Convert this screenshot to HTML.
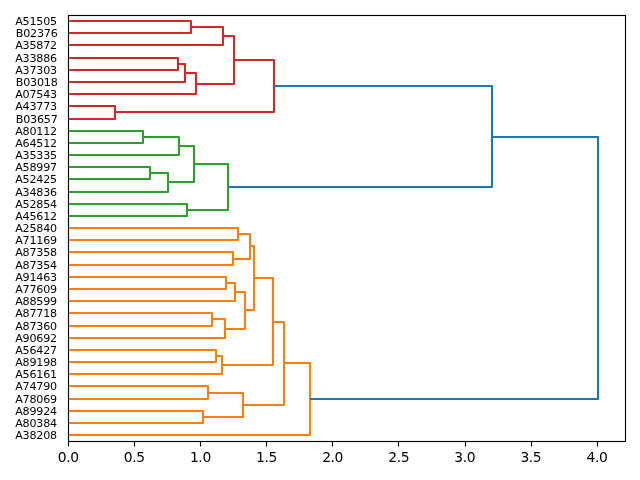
<!DOCTYPE html>
<html><head><meta charset="utf-8"><title>Dendrogram</title>
<style>html,body{margin:0;padding:0;background:#fff;overflow:hidden}svg{display:block}text{font-family:"DejaVu Sans","Liberation Sans",sans-serif;fill:#000}</style></head><body>
<svg width="640" height="480" viewBox="0 0 640 480">
<rect width="640" height="480" fill="#fff"/>
<g fill="none" stroke-width="2.08" stroke-linejoin="round" stroke-linecap="butt">
<path d="M69.1 21H191V33H69.1" stroke="#d62728"/>
<path d="M191 27H223V45H69.1" stroke="#d62728"/>
<path d="M69.1 58H178V70H69.1" stroke="#d62728"/>
<path d="M178 64H185V82H69.1" stroke="#d62728"/>
<path d="M185 73H196V94H69.1" stroke="#d62728"/>
<path d="M223 36H234V84H196" stroke="#d62728"/>
<path d="M69.1 106H115V119H69.1" stroke="#d62728"/>
<path d="M234 60H274V112H115" stroke="#d62728"/>
<path d="M69.1 131H143V143H69.1" stroke="#2ca02c"/>
<path d="M143 137H179V155H69.1" stroke="#2ca02c"/>
<path d="M69.1 167H150V179H69.1" stroke="#2ca02c"/>
<path d="M150 173H168V192H69.1" stroke="#2ca02c"/>
<path d="M179 146H194V182H168" stroke="#2ca02c"/>
<path d="M69.1 204H187V216H69.1" stroke="#2ca02c"/>
<path d="M194 164H228V210H187" stroke="#2ca02c"/>
<path d="M274 86H492V187H228" stroke="#1f77b4"/>
<path d="M69.1 228H238V240H69.1" stroke="#ff7f0e"/>
<path d="M69.1 252H233V265H69.1" stroke="#ff7f0e"/>
<path d="M238 234H250V259H233" stroke="#ff7f0e"/>
<path d="M69.1 277H226V289H69.1" stroke="#ff7f0e"/>
<path d="M226 283H235V301H69.1" stroke="#ff7f0e"/>
<path d="M69.1 313H212V326H69.1" stroke="#ff7f0e"/>
<path d="M212 319H225V338H69.1" stroke="#ff7f0e"/>
<path d="M235 292H245V329H225" stroke="#ff7f0e"/>
<path d="M250 246H254V310H245" stroke="#ff7f0e"/>
<path d="M69.1 350H216V362H69.1" stroke="#ff7f0e"/>
<path d="M216 356H222V374H69.1" stroke="#ff7f0e"/>
<path d="M254 278H273V365H222" stroke="#ff7f0e"/>
<path d="M69.1 386H208V399H69.1" stroke="#ff7f0e"/>
<path d="M69.1 411H203V423H69.1" stroke="#ff7f0e"/>
<path d="M208 393H243V417H203" stroke="#ff7f0e"/>
<path d="M273 322H284V405H243" stroke="#ff7f0e"/>
<path d="M284 363H310V435H69.1" stroke="#ff7f0e"/>
<path d="M492 137H598V399H310" stroke="#1f77b4"/>
</g>
<rect x="68.5" y="15.5" width="557.0" height="426.0" fill="none" stroke="#000" stroke-width="1.11"/>
<g stroke="#000" stroke-width="1.11">
<line x1="68.5" y1="441.5" x2="68.5" y2="446.5"/>
<line x1="134.5" y1="441.5" x2="134.5" y2="446.5"/>
<line x1="200.5" y1="441.5" x2="200.5" y2="446.5"/>
<line x1="266.5" y1="441.5" x2="266.5" y2="446.5"/>
<line x1="332.5" y1="441.5" x2="332.5" y2="446.5"/>
<line x1="398.5" y1="441.5" x2="398.5" y2="446.5"/>
<line x1="465.5" y1="441.5" x2="465.5" y2="446.5"/>
<line x1="531.5" y1="441.5" x2="531.5" y2="446.5"/>
<line x1="597.5" y1="441.5" x2="597.5" y2="446.5"/>
</g>
<g font-size="13.89" text-anchor="middle" letter-spacing="-0.4">
<text x="68.20" y="462">0.0</text>
<text x="134.29" y="462">0.5</text>
<text x="200.39" y="462">1.0</text>
<text x="266.48" y="462">1.5</text>
<text x="332.58" y="462">2.0</text>
<text x="398.68" y="462">2.5</text>
<text x="464.77" y="462">3.0</text>
<text x="530.87" y="462">3.5</text>
<text x="596.96" y="462">4.0</text>
</g>
<g font-size="11.11" text-anchor="end" letter-spacing="-0.2">
<text x="56.9" y="25">A51505</text>
<text x="57.6" y="37">B02376</text>
<text x="56.9" y="49">A35872</text>
<text x="56.9" y="62">A33886</text>
<text x="56.9" y="74">A37303</text>
<text x="57.6" y="86">B03018</text>
<text x="56.9" y="98">A07543</text>
<text x="56.9" y="110">A43773</text>
<text x="57.6" y="123">B03657</text>
<text x="56.9" y="135">A80112</text>
<text x="56.9" y="147">A64512</text>
<text x="56.9" y="159">A35335</text>
<text x="56.9" y="171">A58997</text>
<text x="56.9" y="183">A52425</text>
<text x="56.9" y="196">A34836</text>
<text x="56.9" y="208">A52854</text>
<text x="56.9" y="220">A45612</text>
<text x="56.9" y="232">A25840</text>
<text x="56.9" y="244">A71169</text>
<text x="56.9" y="256">A87358</text>
<text x="56.9" y="269">A87354</text>
<text x="56.9" y="281">A91463</text>
<text x="56.9" y="293">A77609</text>
<text x="56.9" y="305">A88599</text>
<text x="56.9" y="317">A87718</text>
<text x="56.9" y="330">A87360</text>
<text x="56.9" y="342">A90692</text>
<text x="56.9" y="354">A56427</text>
<text x="56.9" y="366">A89198</text>
<text x="56.9" y="378">A56161</text>
<text x="56.9" y="390">A74790</text>
<text x="56.9" y="403">A78069</text>
<text x="56.9" y="415">A89924</text>
<text x="56.9" y="427">A80384</text>
<text x="56.9" y="439">A38208</text>
</g>
</svg></body></html>
